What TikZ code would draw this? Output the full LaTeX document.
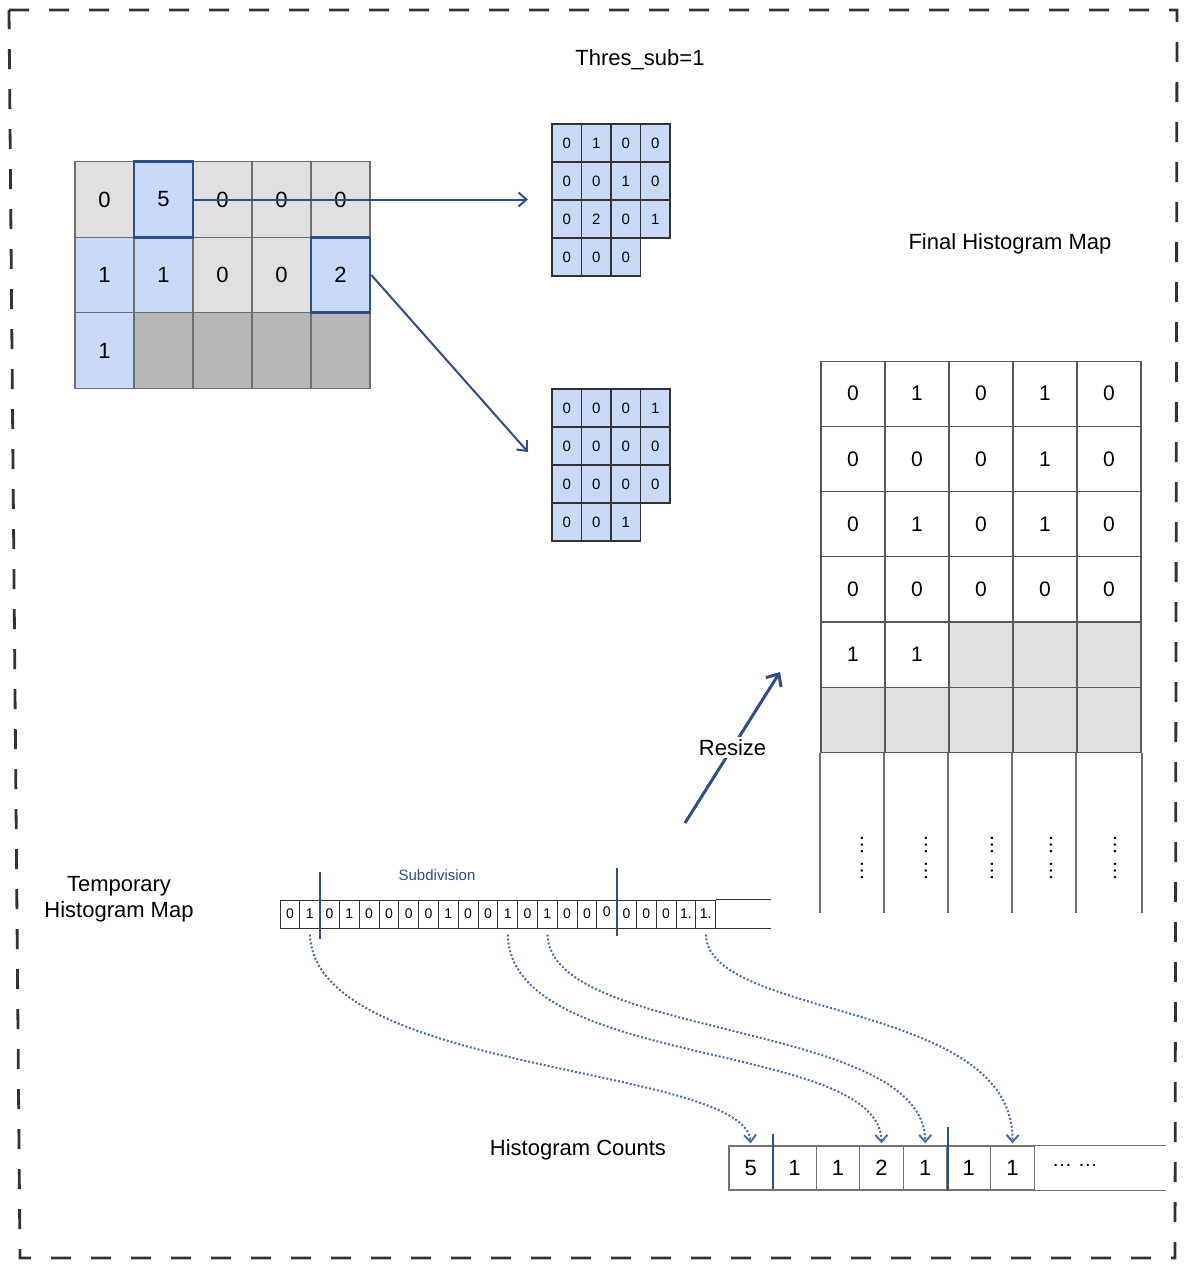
\documentclass[tikz,border=0pt]{standalone}
\usepackage{fontspec}
\setmainfont{Liberation Sans}
\usetikzlibrary{arrows.meta,calc}
\definecolor{cellblue}{RGB}{201,218,248}
\definecolor{lightgrey}{RGB}{224,224,224}
\definecolor{darkgrey}{RGB}{183,183,183}
\definecolor{linkblue}{RGB}{46,78,138}
\definecolor{dotblue}{RGB}{74,108,168}
\definecolor{gridline}{RGB}{110,110,110}

\begin{document}
\begin{tikzpicture}[x=0.5pt,y=-0.5pt,
    bigcell/.style={draw=gridline,line width=0.6pt,inner sep=0pt,
      minimum width=29.5pt,minimum height=37.75pt,font=\fontsize{11}{13}\selectfont},
    smallcell/.style={draw=black!80,line width=0.7pt,fill=cellblue,inner sep=0pt,
      minimum width=14.75pt,minimum height=19pt,font=\fontsize{7.5}{9}\selectfont},
    fcell/.style={draw=black!65,line width=0.6pt,inner sep=0pt,
      minimum width=32pt,minimum height=32.6pt,font=\fontsize{10.5}{12}\selectfont},
    tcell/.style={draw=black!80,line width=0.5pt,inner sep=0pt,
      minimum width=9.9pt,minimum height=14pt,font=\fontsize{7}{8}\selectfont},
    ccell/.style={draw=black!55,line width=0.6pt,inner sep=0pt,
      minimum width=21.8pt,minimum height=22pt,font=\fontsize{11}{13}\selectfont},
    hl/.style={draw=linkblue,line width=1.3pt},
    lbl/.style={font=\fontsize{11}{13}\selectfont,align=center},
    arr/.style={-{Straight Barb[length=4pt,width=7pt]},linkblue,line width=1pt},
    rarr/.style={-{Straight Barb[length=5pt,width=9pt]},linkblue,line width=1.5pt},
    darr/.style={-{Straight Barb[length=3.5pt,width=6pt]},dotblue,line width=1pt,
      dash pattern=on 1pt off 1pt,shorten <=3pt,shorten >=1pt},
    subline/.style={linkblue,line width=1pt}
  ]
    \useasboundingbox (0,0) rectangle (1183,1268);
    \draw[black!80,line width=1.4pt,dash pattern=on 10pt off 10pt]
      (9,10) -- (1177,10) -- (1175,1258) -- (20,1258) -- cycle;

    % input map
    \foreach \c/\r/\v/\f in {1/1/0/lightgrey,3/1/0/lightgrey,4/1/0/lightgrey,5/1/0/lightgrey,
      1/2/1/cellblue,2/2/1/cellblue,3/2/0/lightgrey,4/2/0/lightgrey,
      1/3/1/cellblue,2/3/{}/darkgrey,3/3/{}/darkgrey,4/3/{}/darkgrey,5/3/{}/darkgrey}
      \node[bigcell,fill=\f] (g\r\c) at ({45.5+59*\c},{124+75.5*\r}) {\v};
    \node[bigcell,fill=cellblue,hl] (g12) at (163.5,199.5) {5};
    \node[bigcell,fill=cellblue,hl] (g25) at (340.5,275) {2};

    % subdivided cells
    \foreach \v [count=\i from 0] in {0,1,0,0,0,0,1,0,0,2,0,1,0,0,0}{
      \pgfmathtruncatemacro\c{mod(\i,4)+1}
      \pgfmathtruncatemacro\r{div(\i,4)+1}
      \node[smallcell] (a\r\c) at ({537.25+29.5*\c},{105+38*\r}) {\v};
    }
    \foreach \v [count=\i from 0] in {0,0,0,1,0,0,0,0,0,0,0,0,0,0,1}{
      \pgfmathtruncatemacro\c{mod(\i,4)+1}
      \pgfmathtruncatemacro\r{div(\i,4)+1}
      \node[smallcell] (b\r\c) at ({537.25+29.5*\c},{370+38*\r}) {\v};
    }
    \coordinate (a1in) at (528,199.5);
    \coordinate (b1in) at (528,452);
    \draw[arr] (g12.east) -- (a1in);
    \draw[arr] (g25.east) -- (b1in);

    \node[lbl] (thres) at (640,60) {Thres\_sub=1};
    \node[lbl] (finlbl) at (1010,244) {Final Histogram Map};
    \node[lbl] (templbl) at (119,899) {Temporary\\Histogram Map};
    \node[lbl] (cntlbl) at (578,1150) {Histogram Counts};
    \node[font=\fontsize{7.5}{9}\selectfont,text=linkblue] (sublbl) at (437,875) {Subdivision};

    % final map
    \foreach \v [count=\i from 0] in {0,1,0,1,0,0,0,0,1,0,0,1,0,1,0,0,0,0,0,0,1,1}{
      \pgfmathtruncatemacro\c{mod(\i,5)+1}
      \pgfmathtruncatemacro\r{div(\i,5)+1}
      \node[fcell] (f\r\c) at ({789+64*\c},{328.5+65.2*\r}) {\v};
    }
    \foreach \c/\r in {3/5,4/5,5/5,1/6,2/6,3/6,4/6,5/6}
      \node[fcell,fill=lightgrey] (f\r\c) at ({789+64*\c},{328.5+65.2*\r}) {};
    \foreach \c in {1,...,5}
      \draw[gridline,line width=1pt] (f6\c.south west) -- ++(0,160);
    \draw[gridline,line width=1pt] (f65.south east) -- ++(0,160);
    \foreach \x [count=\c] in {862,926,992,1051,1115}
      \node[rotate=-90,inner sep=0pt,font=\fontsize{10.5}{12}\selectfont] (vd\c) at (\x,858) {… …};

    \coordinate (rsfrom) at (685,823);
    \coordinate (rsto) at (780,672);
    \draw[rarr] (rsfrom) -- (rsto)
      node[midway,lbl,text=black,fill=white,inner sep=1pt] (rsz) {Resize};

    % temporary map
    \foreach \v [count=\i] in {0,1,0,1,0,0,0,0,1,0,0,1,0,1,0,0,\raisebox{2pt}{0},0,0,0,1.,1.}
      \node[tcell] (t\i) at ({270.1+19.8*\i},914) {\v};
    \draw[black!80,line width=0.5pt] (t22.north east) -- ++(55,0);
    \draw[black!80,line width=0.5pt] (t22.south east) -- ++(55,0);
    \draw[subline] ($(t2.north east)+(0,-28)$) -- ($(t2.south east)+(0,10)$);
    \draw[subline] ($(t17.north east)+(0,-32)$) -- ($(t17.south east)+(0,7)$);

    % counts
    \foreach \v [count=\i] in {5,1,1,2,1,1,1}
      \node[ccell] (c\i) at ({707.2+43.6*\i},1168) {\v};
    \draw[black!55,line width=0.6pt] (c7.north east) -- ++(131,0);
    \draw[black!55,line width=0.6pt] (c7.south east) -- ++(131,0);
    \node[font=\fontsize{10}{12}\selectfont] (cdots) at (1075,1165) {… …};
    \draw[subline] ($(c1.north east)+(0,-11)$) -- ($(c1.south east)+(0,-2)$);
    \draw[subline] ($(c5.north east)+(0,-18)$) -- (c5.south east);

    \draw[darr] (t2.south) .. controls (315,1075) and (745,1065) .. (c1.north);
    \draw[darr] (t12.south) .. controls (510,1070) and (880,1040) .. (c4.north);
    \draw[darr] (t14.south) .. controls (550,1040) and (925,1020) .. (c5.north);
    \draw[darr] (t22.south) .. controls (708,1020) and (1015,1000) .. (c7.north);
  \end{tikzpicture}
\end{document}
